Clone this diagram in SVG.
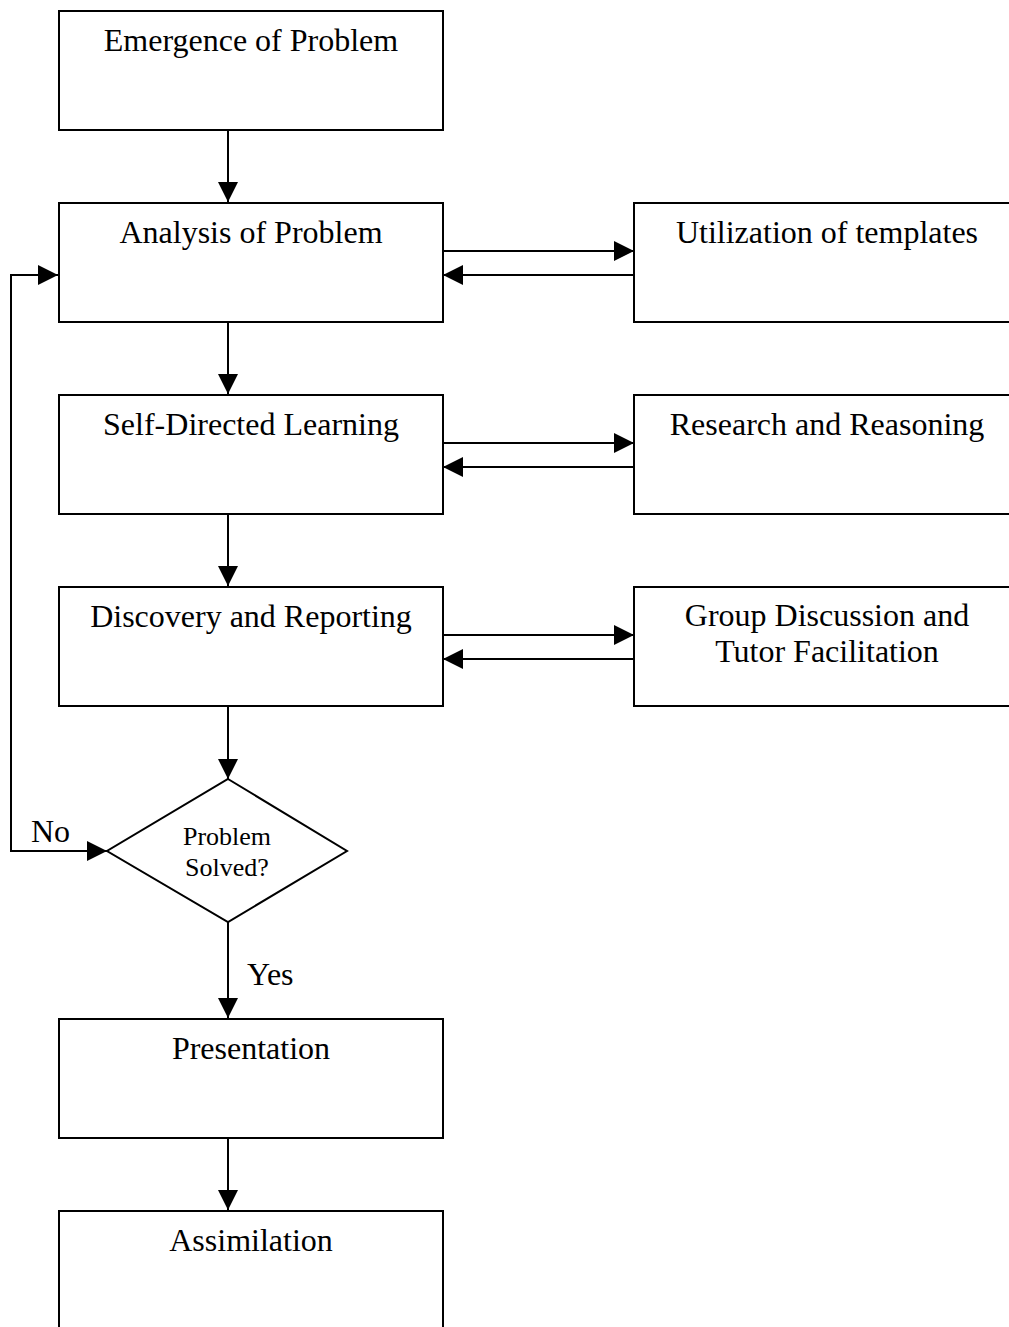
<svg xmlns="http://www.w3.org/2000/svg" width="1009" height="1327" viewBox="0 0 1009 1327">
<style>
.box{fill:#fff;stroke:#000;stroke-width:2}
.line{fill:none;stroke:#000;stroke-width:2}
.t{font-family:"Liberation Serif","Times New Roman",serif;font-size:32px;fill:#000;text-anchor:middle}
.ts{font-family:"Liberation Serif","Times New Roman",serif;font-size:26px;fill:#000;text-anchor:middle}
.lbl{font-family:"Liberation Serif","Times New Roman",serif;font-size:32px;fill:#000}
</style>
<defs>
<marker id="ah" markerUnits="userSpaceOnUse" markerWidth="20" markerHeight="20" refX="20" refY="10" orient="auto">
<path d="M0,0 L20,10 L0,20 z" fill="#000"/>
</marker>
</defs>
<rect width="1009" height="1327" fill="#fff"/>
<g id="connectors">
<line class="line" x1="228" y1="131" x2="228" y2="202" marker-end="url(#ah)"/>
<line class="line" x1="228" y1="323" x2="228" y2="394" marker-end="url(#ah)"/>
<line class="line" x1="228" y1="515" x2="228" y2="586" marker-end="url(#ah)"/>
<line class="line" x1="228" y1="707" x2="228" y2="779" marker-end="url(#ah)"/>
<line class="line" x1="228" y1="922" x2="228" y2="1018" marker-end="url(#ah)"/>
<line class="line" x1="228" y1="1139" x2="228" y2="1210" marker-end="url(#ah)"/>
<line class="line" x1="443" y1="251" x2="634" y2="251" marker-end="url(#ah)"/>
<line class="line" x1="634" y1="275" x2="443" y2="275" marker-end="url(#ah)"/>
<line class="line" x1="443" y1="443" x2="634" y2="443" marker-end="url(#ah)"/>
<line class="line" x1="634" y1="467" x2="443" y2="467" marker-end="url(#ah)"/>
<line class="line" x1="443" y1="635" x2="634" y2="635" marker-end="url(#ah)"/>
<line class="line" x1="634" y1="659" x2="443" y2="659" marker-end="url(#ah)"/>
<polyline class="line" points="107,851 11,851 11,275 58,275" marker-end="url(#ah)"/>
<path d="M87,841 L107,851 L87,861 z" fill="#000"/>
<text class="lbl" x="31" y="842">No</text>
<text class="lbl" x="247" y="985">Yes</text>
</g>
<g id="n1"><rect class="box" x="59" y="11" width="384" height="119"/><text class="t" x="251" y="51">Emergence of Problem</text></g>
<g id="n2"><rect class="box" x="59" y="203" width="384" height="119"/><text class="t" x="251" y="243">Analysis of Problem</text></g>
<g id="n3"><rect class="box" x="59" y="395" width="384" height="119"/><text class="t" x="251" y="435">Self-Directed Learning</text></g>
<g id="n4"><rect class="box" x="59" y="587" width="384" height="119"/><text class="t" x="251" y="627">Discovery and Reporting</text></g>
<g id="r1"><rect class="box" x="634" y="203" width="385" height="119"/><text class="t" x="827" y="243">Utilization of templates</text></g>
<g id="r2"><rect class="box" x="634" y="395" width="385" height="119"/><text class="t" x="827" y="435">Research and Reasoning</text></g>
<g id="r3"><rect class="box" x="634" y="587" width="385" height="119"/><text class="t" x="827" y="626">Group Discussion and</text><text class="t" x="827" y="662">Tutor Facilitation</text></g>
<g id="decision"><polygon class="box" points="228,779 347,851 228,922 107,851"/><text class="ts" x="227" y="845">Problem</text><text class="ts" x="227" y="876">Solved?</text></g>
<g id="n5"><rect class="box" x="59" y="1019" width="384" height="119"/><text class="t" x="251" y="1059">Presentation</text></g>
<g id="n6"><rect class="box" x="59" y="1211" width="384" height="140"/><text class="t" x="251" y="1251">Assimilation</text></g>
</svg>
